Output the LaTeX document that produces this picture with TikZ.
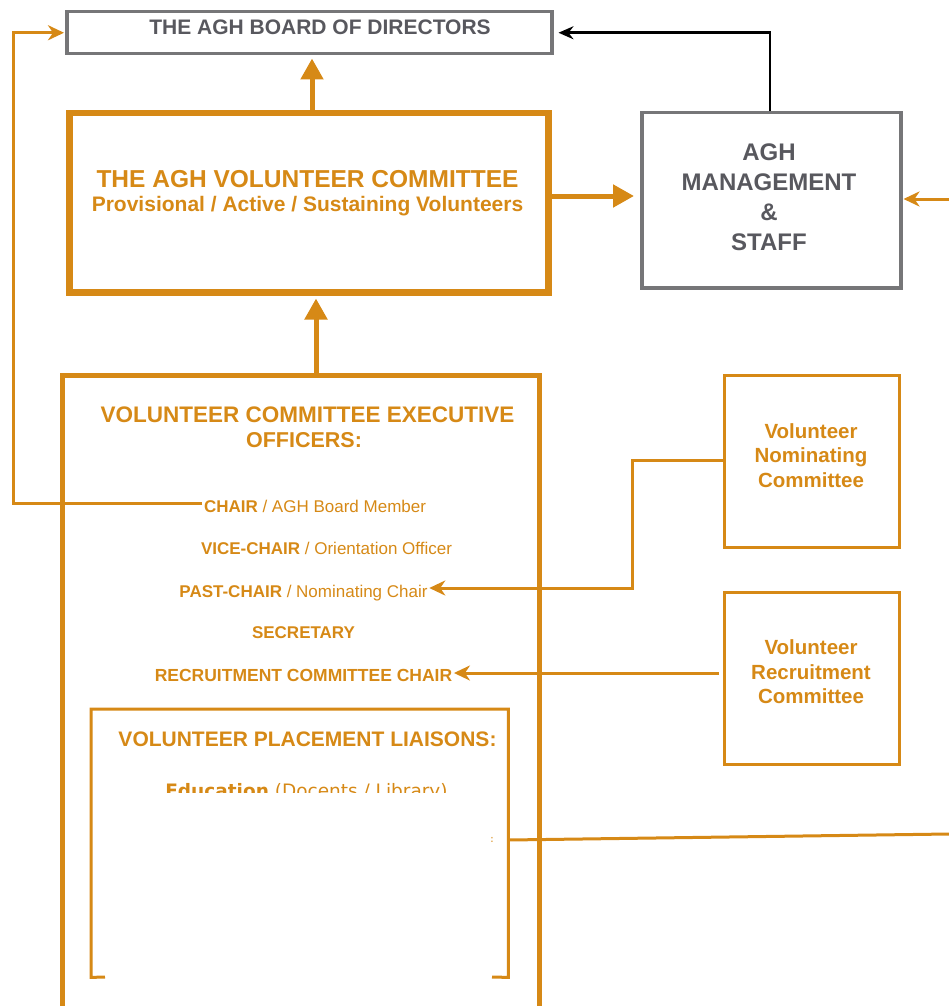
\documentclass[tikz,border=0pt]{standalone}
\usepackage{fontspec}
\setmainfont{Liberation Sans}
\newfontfamily\edufont{DejaVu Sans}
\usetikzlibrary{arrows.meta}
\definecolor{vorange}{RGB}{214,137,22}
\definecolor{vgray}{RGB}{118,118,120}
\definecolor{vtext}{RGB}{88,88,94}
\newcommand\myfs[1]{\fontsize{#1}{#1}\selectfont}
\begin{document}
\begin{tikzpicture}[x=1pt,y=-1pt,
  cbox/.style={rectangle, inner sep=0pt, anchor=north west},
  ob/.style={draw=vorange},
  gb/.style={draw=vgray},
  otxt/.style={text=vorange, inner sep=1.5pt, anchor=base},
  gtxt/.style={text=vtext, inner sep=1.5pt, anchor=base},
  bigarrow/.style={draw=vorange, line width=5pt, -{Triangle[length=21pt,width=22pt]}},
  smallarrow/.style={draw=vorange, line width=3pt, -{Stealth[length=16pt,width=15pt,inset=5pt]}},
  blackarrow/.style={draw=black, line width=2.5pt, -{Stealth[length=15pt,width=13pt,inset=5pt]}},
  plainline/.style={draw=vorange, line width=3pt},
]
\useasboundingbox (0,0) rectangle (949,1006);
\clip (0,0) rectangle (949,1006);

% ---------- boxes ----------
\node[cbox, gb, line width=3.5pt, minimum width=485pt, minimum height=42pt] (board) at (65,10) {};
\node[cbox, ob, line width=6.5pt, minimum width=479pt, minimum height=179pt] (vc) at (66,110) {};
\node[cbox, gb, line width=3.5pt, minimum width=259pt, minimum height=175pt] (mgmt) at (640,111) {};
\node[cbox, ob, line width=4.5pt, minimum width=477pt, minimum height=800pt] (exec) at (60,373) {};
\node[cbox, ob, line width=3pt, minimum width=175pt, minimum height=172pt] (nom) at (723,374) {};
\node[cbox, ob, line width=3pt, minimum width=175pt, minimum height=172pt] (rec) at (723,591) {};
\node[cbox, minimum width=417pt, minimum height=268pt] (plc) at (91,709) {};
\draw[plainline] (105,977) -- (plc.south west) -- (plc.north west) -- (plc.north east) -- (plc.south east) -- (492,977);

% ---------- texts ----------
\node[gtxt, font=\myfs{21}\bfseries] (boardt) at (320,35) {THE AGH BOARD OF DIRECTORS};

\node[otxt, font=\myfs{24.5}\bfseries] (vct1) at (307.5,187) {THE AGH VOLUNTEER COMMITTEE};
\node[otxt, font=\myfs{21}\bfseries] (vct2) at (307.5,211) {Provisional / Active / Sustaining Volunteers};

\node[gtxt, font=\myfs{24}\bfseries] (m1) at (769,160) {AGH};
\node[gtxt, font=\myfs{24}\bfseries] (m2) at (769,190) {MANAGEMENT};
\node[gtxt, font=\myfs{24}\bfseries] (m3) at (769,220) {\&};
\node[gtxt, font=\myfs{24}\bfseries] (m4) at (769,250) {STAFF};

\node[otxt, font=\myfs{22.5}\bfseries] (ext1) at (307.5,422) {VOLUNTEER COMMITTEE EXECUTIVE};
\node[otxt, font=\myfs{21.5}\bfseries] (ext2) at (304,447) {OFFICERS:};

\node[otxt, font=\myfs{17}] (chair) at (315,512) {\bfseries CHAIR\mdseries{} / AGH Board Member};
\node[otxt, font=\myfs{17}] (vice) at (326.5,554) {\bfseries VICE-CHAIR\mdseries{} / Orientation Officer};
\node[otxt, font=\myfs{17}] (past) at (303.5,597) {\bfseries PAST-CHAIR\mdseries{} / Nominating Chair};
\node[otxt, font=\myfs{17}\bfseries] (sec) at (303.5,638) {SECRETARY};
\node[otxt, font=\myfs{17.5}\bfseries] (recc) at (303.5,681) {RECRUITMENT COMMITTEE CHAIR};

\node[otxt, font=\myfs{20.5}\bfseries] (n1) at (811,438) {Volunteer};
\node[otxt, font=\myfs{20.5}\bfseries] (n2) at (811,462) {Nominating};
\node[otxt, font=\myfs{20.5}\bfseries] (n3) at (811,487) {Committee};

\node[otxt, font=\myfs{20.5}\bfseries] (r1) at (811,654) {Volunteer};
\node[otxt, font=\myfs{20.5}\bfseries] (r2) at (811,679) {Recruitment};
\node[otxt, font=\myfs{20.5}\bfseries] (r3) at (811,703) {Committee};

\node[otxt, font=\myfs{21}\bfseries] (plct) at (307.5,746) {VOLUNTEER PLACEMENT LIAISONS:};
\node[otxt, font=\edufont\myfs{18.5}] (edu) at (306.5,797) {\bfseries Education\mdseries{} (Docents / Library)};
\fill[white] (103,793) rectangle (489,975);
\node[text=vorange!75, inner sep=0pt, font=\myfs{10}\bfseries] (frag) at (492,840) {:};

% ---------- connectors ----------
\coordinate (ax1) at (312,0);
\coordinate (ax2) at (316,0);
\coordinate (ay) at (0,196);
\coordinate (rin) at (949,199);
\coordinate (bx) at (770,0);
\coordinate (lx) at (13,0);
\coordinate (cy) at (0,503);
\coordinate (nbend) at (632,460);
\coordinate (nlow) at (632,588);
\coordinate (ry) at (0,673);
\coordinate (rend) at (949,834);

\draw[bigarrow, shorten >=3pt] (vc.north -| ax1) -- (board.south -| ax1);
\draw[bigarrow, shorten >=3pt] (exec.north -| ax2) -- (vc.south -| ax2);
\draw[bigarrow, shorten >=6pt] (vc.east |- ay) -- (mgmt.west |- ay);
\draw[smallarrow, shorten >=1pt] (rin) -- (mgmt.east |- rin);
\draw[blackarrow, shorten >=5pt] (mgmt.north -| bx) |- (board.east);
\draw[smallarrow, shorten >=1pt] (chair.west |- cy) -- (lx |- cy) |- (board.west);
\draw[smallarrow] (nom.west |- nbend) -- (nbend) -- (nlow) -- (past.east |- nlow);
\draw[smallarrow, shorten <=4pt] (rec.west |- ry) -- (recc.east |- ry);
\draw[plainline] (plc.east |- frag) -- (rend);
\end{tikzpicture}
\end{document}
